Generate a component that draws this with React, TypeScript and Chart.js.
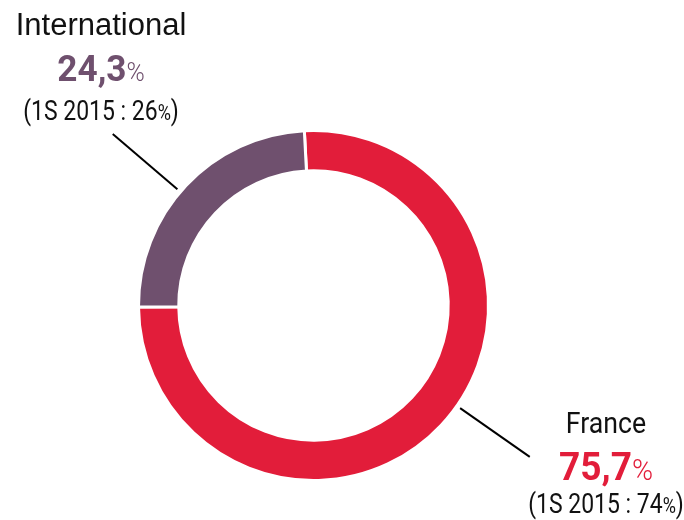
import React, { useEffect, useRef } from "react";
import { Chart, registerables } from "chart.js";

Chart.register(...registerables);

const categories = ["France", "International"];
const shares = [75.7, 24.3];
const previousShares = [74, 26];
const previousLabel = "1S 2015";
const colors = ["#E21D3A", "#6F506E"];

// annotation layout (label blocks and leader lines)
const labelLayout = [
  { cx: 606, nameY: 433, valueY: 480, prevY: 513, lineAngle: 35, valueSize: 39, pctSize: 30, nameFont: "29px Roboto, sans-serif", nameSx: 0.92 },
  { cx: 101, nameY: 35, valueY: 81, prevY: 120, lineAngle: 220.5, valueSize: 37, pctSize: 26, nameFont: '31px "Liberation Sans", Arial, sans-serif', nameSx: 1 },
];

const FONT = "Roboto, sans-serif";

const fmt = (v: number) => v.toFixed(1).replace(".", ",");

type Run = { t: string; font: string; color: string };

function drawRuns(ctx: CanvasRenderingContext2D, runs: Run[], cx: number, y: number, sx: number) {
  let total = 0;
  const widths = runs.map((r) => {
    ctx.font = r.font;
    const w = ctx.measureText(r.t).width;
    total += w;
    return w;
  });
  ctx.save();
  ctx.translate(cx - (total * sx) / 2, y);
  ctx.scale(sx, 1);
  let x = 0;
  runs.forEach((r, i) => {
    ctx.font = r.font;
    ctx.fillStyle = r.color;
    ctx.textAlign = "left";
    ctx.textBaseline = "alphabetic";
    ctx.fillText(r.t, x, 0);
    x += widths[i];
  });
  ctx.restore();
}

const labelPlugin = {
  id: "sliceLabels",
  afterDraw(chart: any) {
    const ctx: CanvasRenderingContext2D = chart.ctx;
    const meta = chart.getDatasetMeta(0);
    ctx.save();
    meta.data.forEach((arc: any, i: number) => {
      const { x, y, outerRadius } = arc.getProps(["x", "y", "outerRadius"], true);
      const L = labelLayout[i];
      const a = (L.lineAngle * Math.PI) / 180;
      const r1 = outerRadius + 4;
      const r2 = outerRadius + 89;
      ctx.beginPath();
      ctx.strokeStyle = "#000";
      ctx.lineWidth = 2;
      ctx.moveTo(x + Math.cos(a) * r1, y + Math.sin(a) * r1);
      ctx.lineTo(x + Math.cos(a) * r2, y + Math.sin(a) * r2);
      ctx.stroke();

      drawRuns(ctx, [{ t: categories[i], font: L.nameFont, color: "#111" }], L.cx, L.nameY, L.nameSx);
      drawRuns(
        ctx,
        [
          { t: fmt(shares[i]), font: `bold ${L.valueSize}px ${FONT}`, color: colors[i] },
          { t: "%", font: `300 ${L.pctSize}px ${FONT}`, color: colors[i] },
        ],
        L.cx,
        L.valueY,
        0.95
      );
      drawRuns(
        ctx,
        [
          { t: `(${previousLabel} : ${previousShares[i]}`, font: `28px ${FONT}`, color: "#111" },
          { t: "%", font: `22px ${FONT}`, color: "#111" },
          { t: ")", font: `28px ${FONT}`, color: "#111" },
        ],
        L.cx,
        L.prevY,
        0.82
      );
    });
    ctx.restore();
  },
};

export default function App() {
  const ref = useRef<HTMLCanvasElement>(null);
  useEffect(() => {
    document.body.style.margin = "0";
    const chart = new Chart(ref.current!, {
      type: "doughnut",
      data: {
        labels: categories,
        datasets: [
          {
            data: shares,
            backgroundColor: colors,
            borderColor: "#ffffff",
            borderWidth: 3,
          },
        ],
      },
      options: {
        responsive: false,
        animation: false,
        cutout: "77%",
        rotation: -3,
        layout: { padding: { left: 137, top: 129, right: 194, bottom: 38 } },
        plugins: { legend: { display: false }, tooltip: { enabled: false } },
        events: [],
      },
      plugins: [labelPlugin],
    });
    return () => chart.destroy();
  }, []);
  return (
    <div style={{ width: 684, height: 520 }}>
      <canvas ref={ref} width={684} height={520} />
    </div>
  );
}
